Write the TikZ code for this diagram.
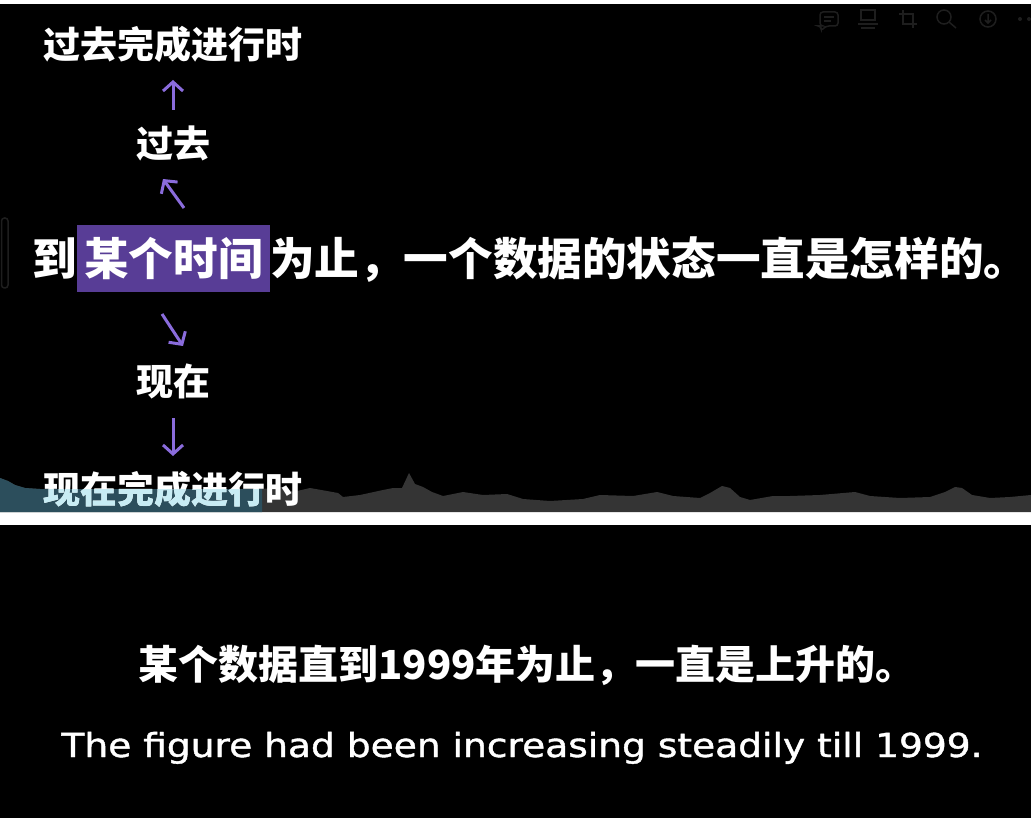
\documentclass[tikz,border=0pt]{standalone}
\usepackage{fontspec}
\setmainfont{DejaVu Sans}
\newfontfamily\enfont{DejaVu Sans}[FakeBold=1.2]
\newfontfamily\cjk{Noto Sans CJK SC}
\usetikzlibrary{arrows.meta}
\definecolor{arrowpurple}{RGB}{138,108,220}
\definecolor{hlpurple}{RGB}{88,61,150}
\definecolor{waveteal}{RGB}{44,78,92}
\definecolor{wavegray}{RGB}{52,52,52}
\definecolor{tintcyan}{RGB}{200,236,244}
\definecolor{uigray}{RGB}{30,30,30}
\newcommand\mywave{(0,512) -- (0,478) -- (8,481) -- (15,485) -- (25,488) -- (40,489) -- (262,489) -- (283,487) -- (293,492) -- (310,488) -- (327,491) -- (338,493) -- (343,497) -- (360,495) -- (383,490) -- (393,488) -- (402,488) -- (409,473) -- (415,484) -- (423,487) -- (432,492) -- (443,496) -- (463,492) -- (483,495) -- (507,494) -- (523,499) -- (550,501) -- (583,499) -- (600,495) -- (633,496) -- (657,492) -- (673,496) -- (700,498) -- (710,493) -- (722,486) -- (730,488) -- (740,497) -- (750,500) -- (773,496) -- (790,496) -- (820,495) -- (855,492) -- (870,496) -- (900,498) -- (930,497) -- (945,492) -- (955,487) -- (962,488) -- (972,495) -- (990,498) -- (1010,497) -- (1031,495) -- (1031,512) -- cycle}
\begin{document}
\begin{tikzpicture}[x=1pt,y=-1pt,
  lbl/.style={text=white, font=\cjk\bfseries\fontsize{37}{40}\selectfont, inner sep=0},
  mainline/.style={text=white, font=\cjk\bfseries\fontsize{44.6}{50}\selectfont, inner sep=0},
  zhline/.style={text=white, font=\cjk\bfseries\fontsize{40}{44}\selectfont, inner sep=0},
  enline/.style={text=white, font=\enfont\fontsize{33}{36}\selectfont, inner sep=0},
  parrow/.style={draw=arrowpurple, line width=3, -{Straight Barb[length=9,width=20,line width=3]}},
  uiline/.style={draw=uigray, line width=1.5},
]
\useasboundingbox (0,0) rectangle (1031,818);
\fill[white] (0,0) rectangle (1031,818);
\fill[black] (0,4) rectangle (1031,512);
\fill[black] (0,525) rectangle (1031,818);
% waveform
\fill[wavegray] \mywave;
\begin{scope}
  \clip (0,0) rectangle (262,512);
  \fill[waveteal] \mywave;
\end{scope}
% faint UI elements
\draw[uiline, rounded corners=3] (1.5,218) rectangle (8,288);
\draw[uiline, rounded corners=3] (820,12) -- (838,12) -- (838,26) -- (826,26) -- (821,31) -- (821,26) -- (820,26) -- cycle;
\draw[uiline] (824,17) -- (834,17) (824,21) -- (831,21);
\draw[uiline] (861,10) rectangle (875,20) (858,24) -- (878,24) (861,28) -- (875,28);
\draw[uiline] (903,10) -- (903,24) -- (917,24) (899,14) -- (913,14) -- (913,28);
\draw[uiline] (944,17) circle[radius=7] (949,22) -- (956,28);
\draw[uiline] (988,19) circle[radius=8] (988,14) -- (988,23) (985,20) -- (988,23) -- (991,20);
\fill[uigray] (1020,19) circle[radius=2] (1029,19) circle[radius=2];
% labels
\node[lbl] (ppc) at (173,44) {过去完成进行时};
\node[lbl] (past) at (173,143) {过去};
\node[lbl] (now) at (173,381) {现在};
\node[lbl] (npc) at (173,489) {现在完成进行时};
\begin{scope}
  \clip \mywave;
  \clip (0,0) rectangle (262,512);
  \node[lbl, text=tintcyan] (npctint) at (173,489) {现在完成进行时};
\end{scope}
% main sentence
\node[mainline, fill=hlpurple, inner xsep=7, minimum height=67, anchor=west] (m2) at (77,258.5) {某个时间};
\node[mainline, anchor=base east] (m1) at (m2.base west) {到};
\node[mainline, anchor=base west] (m3) at (m2.base east) {为止，一个数据的状态一直是怎样的。};
% arrows
\coordinate (a1s) at (173,110); \coordinate (a1e) at (173,80);
\coordinate (a2s) at (184,208); \coordinate (a2e) at (163,179);
\coordinate (a3s) at (162,314); \coordinate (a3e) at (183,346);
\coordinate (a4s) at (173,418); \coordinate (a4e) at (173,456);
\draw[parrow] (a1s) -- (a1e);
\draw[parrow] (a2s) -- (a2e);
\draw[parrow] (a3s) -- (a3e);
\draw[parrow] (a4s) -- (a4e);
% bottom panel
\node[zhline] (zh) at (527,665) {某个数据直到1999年为止，一直是上升的。};
\node[enline, anchor=base] (en) at (522,757) {\resizebox{921pt}{\height}{The figure had been increasing steadily till 1999.}};
\end{tikzpicture}
\end{document}
